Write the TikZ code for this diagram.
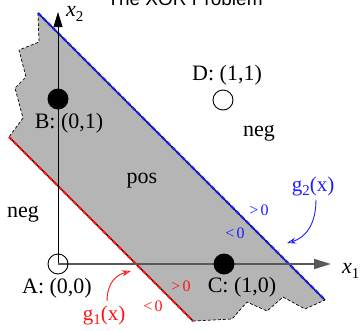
\documentclass[tikz,border=0pt]{standalone}
\usepackage{fontspec}
\setmainfont{Liberation Serif}
\setsansfont{Liberation Sans}
\usetikzlibrary{arrows.meta}
\definecolor{regiongray}{gray}{0.71}
\definecolor{axisgray}{gray}{0.35}
\definecolor{gblue}{RGB}{30,30,255}
\definecolor{gred}{RGB}{255,20,20}
\begin{document}
\begin{tikzpicture}[x=1pt,y=-1pt,
  lbl/.style={inner sep=0pt, font=\fontsize{22}{24}\selectfont},
  sgn/.style={inner sep=0pt, font=\fontsize{16}{18}\selectfont},
  opendot/.style={circle, draw=black, fill=none, line width=0.9pt, minimum size=20pt, inner sep=0pt},
  filldot/.style={circle, fill=black, minimum size=21pt, inner sep=0pt},
  jag/.style={draw=black, line width=0.7pt, dash pattern=on 3pt off 2pt},
  blackline/.style={draw=black, line width=1.1pt},
  bluedash/.style={draw=gblue, line width=2.2pt, dash pattern=on 4.5pt off 2.5pt},
  reddash/.style={draw=gred, line width=2.2pt, dash pattern=on 4.5pt off 2.5pt},
  xaxis/.style={draw=axisgray, line width=1.8pt, -{Triangle[length=17pt,width=10pt]}},
  yaxis/.style={draw=black, line width=0.9pt, -{Triangle[length=15pt,width=9pt]}},
  gbluearrow/.style={draw=gblue, line width=0.9pt, -{Stealth[open,length=9pt,width=6pt]}},
  gredarrow/.style={draw=gred, line width=0.9pt, -{Stealth[open,length=9pt,width=6pt]}}]
\useasboundingbox (0,0) rectangle (362,330);
\clip (0,0) rectangle (362,330);
% title (cut off at the top, as in the reference)
\node[anchor=base, inner sep=0pt, font=\sffamily\fontsize{19}{21}\selectfont] (title) at (185,5) {The XOR Problem};
% boundary line end points
\coordinate (b1) at (38,13);
\coordinate (b2) at (325,300);
\coordinate (r1) at (9,137);
\coordinate (r2) at (193,321);
% region
\fill[regiongray] (b1) -- (39,42) -- (19,50) -- (26,77) -- (15,88) -- (23,118) -- (r1)
  -- (r2) -- (232,319) -- (247,302) -- (267,311) -- (283,297) -- (305,309) -- (b2) -- cycle;
\draw[jag] (b1) -- (39,42) -- (19,50) -- (26,77) -- (15,88) -- (23,118) -- (r1);
\draw[jag] (r2) -- (232,319) -- (247,302) -- (267,311) -- (283,297) -- (305,309) -- (b2);
% decision lines
\draw[blackline] (b1) -- (b2);
\draw[bluedash] (b1) -- (b2);
\draw[blackline] (r1) -- (r2);
\draw[reddash] (r1) -- (r2);
% axes
\coordinate (O) at (58,264);
\coordinate (xend) at (331,264);
\coordinate (yend) at (58,12);
\draw[yaxis] (O) -- (yend);
\draw[xaxis] (O) -- (xend);
\node[lbl, anchor=west] (x1) at (342,271) {\itshape x\raisebox{-0.45ex}{\upshape\fontsize{15}{15}\selectfont 1}};
\node[lbl, anchor=west] (x2) at (66,14) {\itshape x\raisebox{-0.45ex}{\upshape\fontsize{15}{15}\selectfont 2}};
% points
\node[opendot] (A) at (O) {};
\node[filldot] (B) at (58,99) {};
\node[filldot] (C) at (224,264) {};
\node[opendot] (D) at (223,100) {};
\node[lbl] (Alab) at (57,288) {A: (0,0)};
\node[lbl] (Blab) at (69,123) {B: (0,1)};
\node[lbl] (Clab) at (242,287) {C: (1,0)};
\node[lbl] (Dlab) at (227,75) {D: (1,1)};
% region labels
\node[lbl] (neg1) at (259,133) {neg};
\node[lbl] (neg2) at (23,214) {neg};
\node[lbl] (pos) at (142,181) {pos};
% g2 labels
\node[sgn, text=gblue] (g2p) at (259,210) {>\hspace{0.15em}0};
\node[sgn, text=gblue] (g2n) at (235,233) {<\hspace{0.15em}0};
\node[lbl, text=gblue, font=\fontsize{21}{23}\selectfont] (g2) at (313,186) {g\raisebox{-0.45ex}{\fontsize{15}{15}\selectfont 2}(x)};
\coordinate (g2tip) at (287,243);
\draw[gbluearrow] (g2.south) ++(3,4) .. controls (316,225) and (305,238) .. (g2tip);
% g1 labels
\node[sgn, text=gred] (g1p) at (181,286) {>\hspace{0.15em}0};
\node[sgn, text=gred] (g1n) at (153,306) {<\hspace{0.15em}0};
\node[lbl, text=gred, font=\fontsize{21}{23}\selectfont] (g1) at (104,315) {g\raisebox{-0.45ex}{\fontsize{15}{15}\selectfont 1}(x)};
\coordinate (g1tip) at (131,271);
\draw[gredarrow] (g1.north) ++(3,-4) .. controls (107,288) and (112,276) .. (g1tip);
\end{tikzpicture}
\end{document}
